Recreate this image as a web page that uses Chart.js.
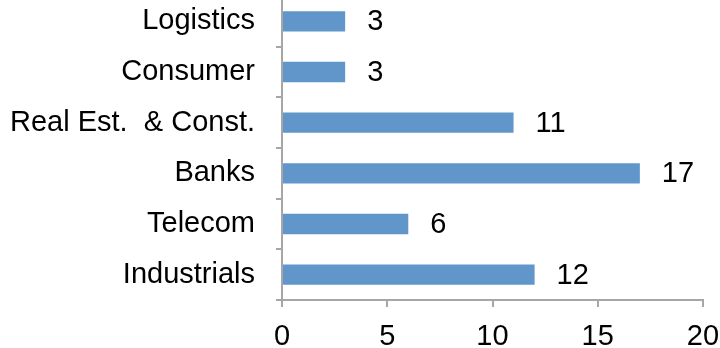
<!DOCTYPE html>
<html>
<head>
<meta charset="utf-8">
<script src="https://cdn.jsdelivr.net/npm/chart.js@4/dist/chart.umd.min.js"></script>
<style>
  html, body { margin: 0; padding: 0; background: #fff; overflow: hidden; }
  /* plot runs a few pixels past the top edge */
  #wrap { width: 720px; height: 352px; margin-top: -4px; }
</style>
</head>
<body>
<div id="wrap"><canvas id="barChart"></canvas></div>
<script>
var sectors = ["Logistics", "Consumer", "Real Est.  & Const.", "Banks", "Telecom", "Industrials"];
var counts = [3, 3, 11, 17, 6, 12];
var xTicks = [0, 5, 10, 15, 20];

var labelFont = '"Liberation Sans", Arial, sans-serif';

// numbers to the right of each bar
var valueLabels = {
    id: 'valueLabels',
    afterDatasetsDraw: function (chart) {
        var ctx = chart.ctx;
        var meta = chart.getDatasetMeta(0);
        ctx.save();
        ctx.font = '29px ' + labelFont;
        ctx.fillStyle = '#000';
        ctx.textBaseline = 'middle';
        ctx.textAlign = 'left';
        meta.data.forEach(function (bar, i) {
            ctx.fillText(String(counts[i]), bar.x + 22, bar.y + 1);
        });
        ctx.restore();
    }
};

var ctx2 = document.getElementById("barChart").getContext("2d");
new Chart(ctx2, {
    type: 'bar',
    data: {
        labels: sectors,
        datasets: [{
            data: counts,
            backgroundColor: '#6096c9',
            borderWidth: 0,
            barPercentage: 0.4,
            categoryPercentage: 1.0
        }]
    },
    options: {
        indexAxis: 'y',
        responsive: true,
        maintainAspectRatio: false,
        animation: false,
        plugins: {
            legend: { display: false },
            tooltip: { enabled: false }
        },
        scales: {
            x: {
                min: 0,
                max: 20,
                afterBuildTicks: function (scale) {
                    scale.ticks = xTicks.map(function (v) { return { value: v }; });
                },
                afterFit: function (scale) {
                    scale.height = 48;
                    scale.paddingLeft = 0;
                    scale.paddingRight = 17;
                },
                border: { color: '#a6a6a6', width: 2 },
                grid: { drawOnChartArea: false, drawTicks: true, tickLength: 7, color: '#a6a6a6', lineWidth: 2 },
                ticks: {
                    color: '#000',
                    padding: 13,
                    font: { family: labelFont, size: 29 }
                }
            },
            y: {
                afterFit: function (scale) {
                    scale.width = 282;
                    scale.paddingTop = 0;
                    scale.paddingBottom = 0;
                },
                border: { color: '#a6a6a6', width: 2 },
                grid: { drawOnChartArea: false, drawTicks: true, tickLength: 6, color: '#a6a6a6', lineWidth: 2 },
                ticks: {
                    color: '#000',
                    padding: 21,
                    font: { family: labelFont, size: 29 }
                }
            }
        }
    },
    plugins: [valueLabels]
});
</script>
</body>
</html>
